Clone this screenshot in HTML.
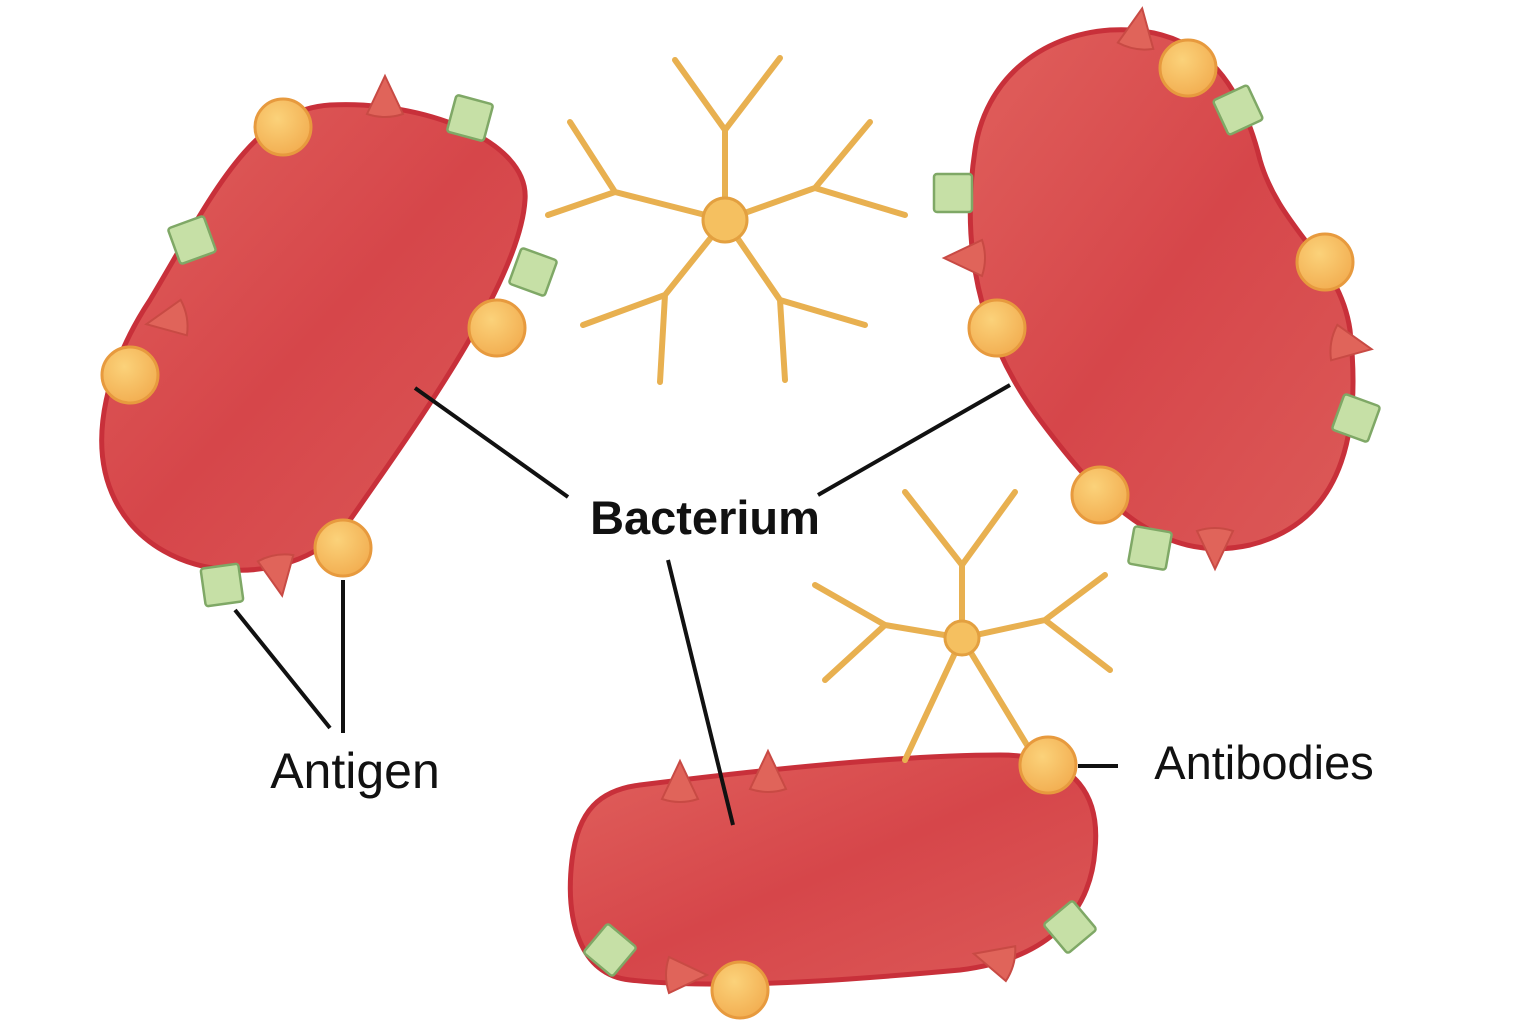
<!DOCTYPE html>
<html><head><meta charset="utf-8"><style>body{margin:0;background:#fff}svg{display:block}</style></head><body>
<svg width="1536" height="1024" viewBox="0 0 1536 1024" xmlns="http://www.w3.org/2000/svg">
<defs>
<linearGradient id="bg" x1="0" y1="0" x2="1" y2="1"><stop offset="0" stop-color="#e0605c"/><stop offset="0.5" stop-color="#d6464a"/><stop offset="1" stop-color="#dc5a58"/></linearGradient>
<radialGradient id="og" cx="0.4" cy="0.35" r="0.7"><stop offset="0" stop-color="#fbd27a"/><stop offset="1" stop-color="#f2ad50"/></radialGradient>
<g id="C"><circle r="28" fill="url(#og)" stroke="#e79a3e" stroke-width="3"/></g>
<g id="S"><rect x="-19" y="-19" width="38" height="38" rx="3" fill="#c6e0a6" stroke="#7fa866" stroke-width="2.5"/></g>
<g id="T"><path d="M0,-24 L18,14 Q0,20 -18,14 Z" fill="#e0645a" stroke="#c84a44" stroke-width="2"/></g>
</defs>
<g fill="url(#bg)" stroke="#c8303a" stroke-width="5">
<path d="M330,105 C420,100 530,140 525,200 C520,280 420,420 350,520 C300,590 160,590 115,500 C85,440 110,360 150,300 C210,200 250,110 330,105 Z"/>
<path d="M1110,30 C1200,25 1240,80 1260,160 C1280,230 1340,260 1350,330 C1360,420 1350,520 1250,545 C1160,565 1100,500 1040,420 C980,340 960,250 975,150 C985,80 1040,35 1110,30 Z"/>
<path d="M640,785 C760,770 900,755 1000,755 C1080,755 1100,800 1095,850 C1090,920 1040,960 960,970 C850,980 720,990 630,980 C580,975 565,920 572,860 C578,810 600,790 640,785 Z"/>
</g>
<g stroke="#e8b050" stroke-width="6" fill="none" stroke-linecap="round">
<path d="M725,220 L725,130 M725,130 L675,60 M725,130 L780,58 M725,220 L615,192 L548,215 M615,192 L570,122 M725,220 L815,188 L870,122 M815,188 L905,215 M725,220 L665,295 L583,325 M665,295 L660,382 M725,220 L780,300 L865,325 M780,300 L785,380"/>
<path d="M962,638 L962,565 L905,492 M962,565 L1015,492 M962,638 L885,625 L815,585 M885,625 L825,680 M962,638 L1045,620 L1105,575 M1045,620 L1110,670 M962,638 L905,760 M962,638 L1030,750"/>
</g>
<circle cx="725" cy="220" r="22" fill="#f5c060" stroke="#e3a040" stroke-width="3"/>
<circle cx="962" cy="638" r="17" fill="#f5c060" stroke="#e3a040" stroke-width="3"/>
<use href="#C" x="283" y="127"/><use href="#C" x="130" y="375"/><use href="#C" x="497" y="328"/><use href="#C" x="343" y="548"/>
<use href="#C" x="1188" y="68"/><use href="#C" x="1325" y="262"/><use href="#C" x="997" y="328"/><use href="#C" x="1100" y="495"/>
<use href="#C" x="1048" y="765"/><use href="#C" x="740" y="990"/>
<use href="#S" transform="translate(470,118) rotate(15)"/><use href="#S" transform="translate(192,240) rotate(-20)"/><use href="#S" transform="translate(533,272) rotate(20)"/><use href="#S" transform="translate(222,585) rotate(-8)"/>
<use href="#S" transform="translate(1238,110) rotate(-25)"/><use href="#S" transform="translate(953,193)"/><use href="#S" transform="translate(1356,418) rotate(20)"/><use href="#S" transform="translate(1150,548) rotate(10)"/>
<use href="#S" transform="translate(610,950) rotate(40)"/><use href="#S" transform="translate(1070,927) rotate(-40)"/>
<use href="#T" transform="translate(385,100)"/><use href="#T" transform="translate(170,320) rotate(-100)"/><use href="#T" transform="translate(278,572) rotate(170)"/>
<use href="#T" transform="translate(1138,32) rotate(10)"/><use href="#T" transform="translate(968,258) rotate(-90)"/><use href="#T" transform="translate(1348,345) rotate(100)"/><use href="#T" transform="translate(1215,545) rotate(180)"/>
<use href="#T" transform="translate(680,785)"/><use href="#T" transform="translate(768,775)"/><use href="#T" transform="translate(683,975) rotate(90)"/><use href="#T" transform="translate(997,960) rotate(-75)"/>
<g stroke="#111" stroke-width="4" fill="none">
<path d="M415,388 L568,497 M1010,385 L818,495 M668,560 L733,825 M235,610 L330,728 M343,580 L343,733 M1078,766 L1118,766"/>
</g>
<g font-family="Liberation Sans, sans-serif" fill="#111">
<text x="705" y="534" text-anchor="middle" font-size="47" font-weight="bold">Bacterium</text>
<text x="355" y="788" text-anchor="middle" font-size="50">Antigen</text>
<text x="1264" y="779" text-anchor="middle" font-size="47">Antibodies</text>
</g>
</svg>
</body></html>
